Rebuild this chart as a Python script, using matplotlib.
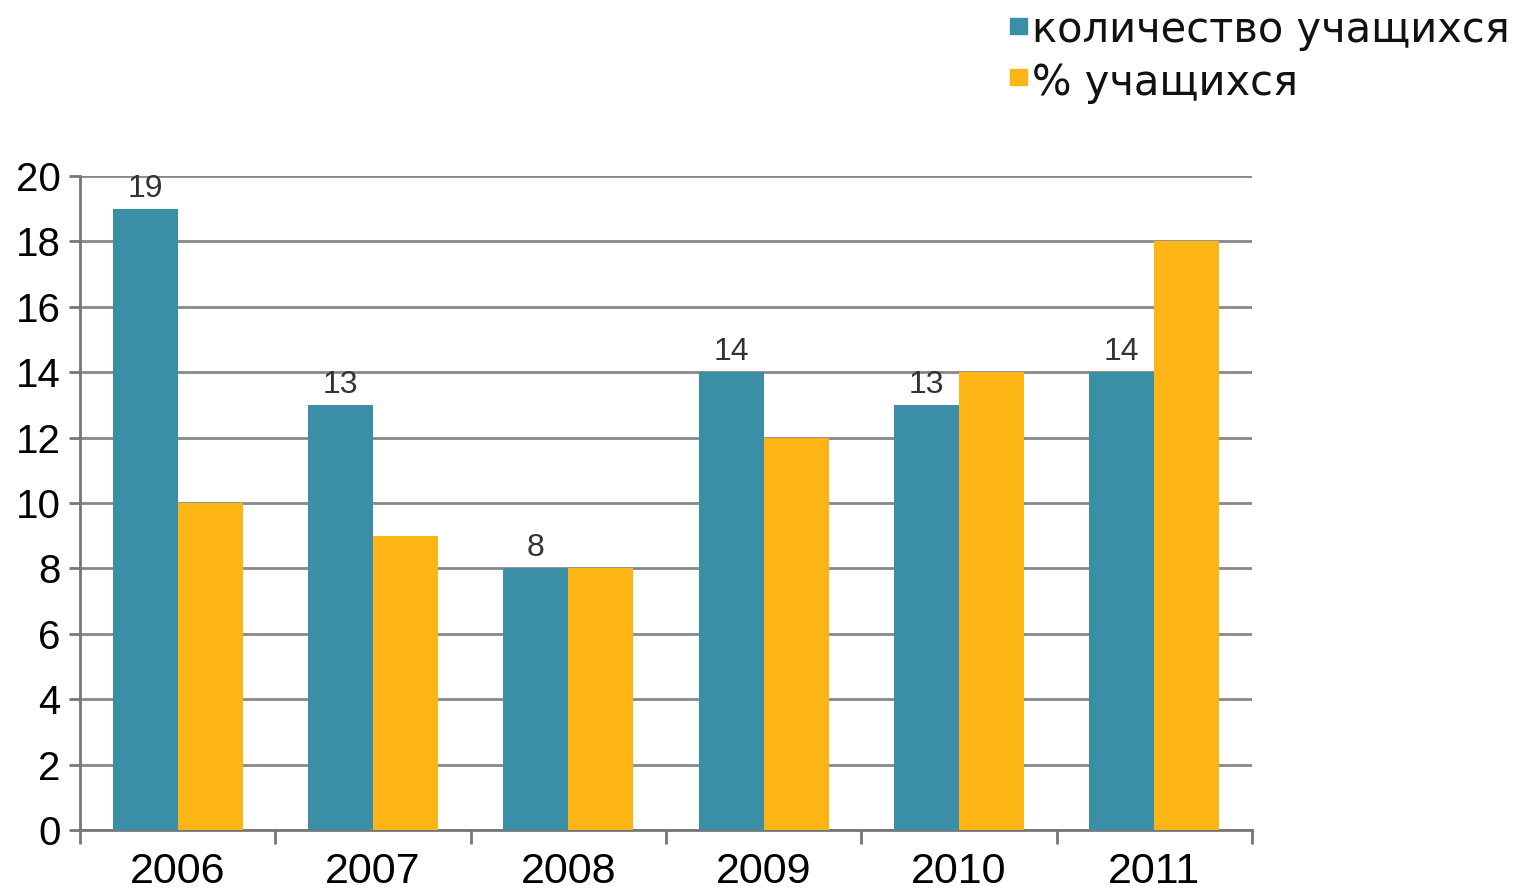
import matplotlib
matplotlib.use("Agg")
import matplotlib.pyplot as plt
import numpy as np
from matplotlib.patches import Rectangle

plt.rcParams['font.family'] = ['Liberation Sans', 'DejaVu Sans']

years = ['2006', '2007', '2008', '2009', '2010', '2011']
count_students = [19, 13, 8, 14, 13, 14]
pct_students = [10, 9, 8, 12, 14, 18]
series_names = ['количество учащихся', '% учащихся']
colors = ['#3A8FA6', '#FDB515']

fig = plt.figure(figsize=(15.2, 8.92), dpi=100)
ax = fig.add_axes([80/1520, 62/892, (1252-80)/1520, (830-176)/892])

x = np.arange(len(years))
w = 1/3
b1 = ax.bar(x - w/2, count_students, width=w, color=colors[0], zorder=3, linewidth=0)
b2 = ax.bar(x + w/2, pct_students, width=w, color=colors[1], zorder=3, linewidth=0)

for rect, v in zip(b1, count_students):
    ax.text(rect.get_x() + rect.get_width()/2, v + 0.15, str(v), ha='center', va='bottom',
            fontsize=23, color='#333333', zorder=4)

ax.set_xlim(-0.5, len(years) - 0.5)
ax.set_ylim(0, 20)
ax.set_yticks(np.arange(0, 21, 2))
ax.set_yticklabels([str(v) for v in range(0, 21, 2)], fontsize=29)
ax.yaxis.grid(True, color='#888888', linewidth=2, zorder=0)
ax.set_axisbelow(True)

ax.set_xticks(np.arange(-0.5, len(years), 1))
ax.set_xticklabels([])
ax.set_xticks(x, minor=True)
ax.set_xticklabels(years, minor=True, fontsize=31)
ax.tick_params(axis='x', which='minor', length=0, pad=16)
ax.tick_params(axis='x', which='major', length=10, width=2, color='#777777', direction='out')
ax.tick_params(axis='y', length=8, width=2, color='#777777', pad=6)

for s in ['top', 'right']:
    ax.spines[s].set_visible(False)
for s in ['left', 'bottom']:
    ax.spines[s].set_color('#777777')
    ax.spines[s].set_linewidth(2)

# legend
sq_centers = [26, 77]
baselines = [42, 95]
for i, (name, c) in enumerate(zip(series_names, colors)):
    yc = 1 - sq_centers[i]/892
    fig.patches.append(Rectangle((1010/1520, yc - 8/892), 17/1520, 16/892,
                                 transform=fig.transFigure, color=c, figure=fig))
    fig.text(1032/1520, 1 - baselines[i]/892, name, fontsize=30, va='baseline', ha='left',
             color='#111111', family=['DejaVu Sans'])

fig.savefig('out.png', dpi=100)
